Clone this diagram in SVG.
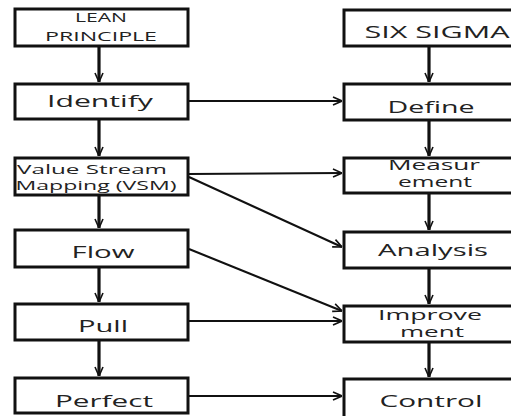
<svg xmlns="http://www.w3.org/2000/svg" width="511" height="416" viewBox="0 0 511 416">
<style>
.box{fill:#fff;stroke:#111;stroke-width:3}
.t{font-family:"Open Sans","DejaVu Sans",sans-serif;fill:#222;text-anchor:middle}
.s16{font-size:16px}
.s14{font-size:14px}
.s13{font-size:13px}
.s12{font-size:12px}
.v{stroke:#111;stroke-width:3.2;fill:none}
.h{stroke:#111;stroke-width:2;fill:none}
</style>
<defs>
<marker id="a" markerUnits="userSpaceOnUse" viewBox="0 0 10 10" refX="10" refY="5" markerWidth="10" markerHeight="10" orient="auto">
<path d="M1,1 L10,5 L1,9" fill="none" stroke="#111" stroke-width="1.6"/>
</marker>
</defs>
<g id="connectors">
<line class="v" x1="99" y1="46" x2="99" y2="82" marker-end="url(#a)"/>
<line class="v" x1="99" y1="120" x2="99" y2="156" marker-end="url(#a)"/>
<line class="v" x1="99" y1="195" x2="99" y2="228" marker-end="url(#a)"/>
<line class="v" x1="99" y1="267" x2="99" y2="302" marker-end="url(#a)"/>
<line class="v" x1="99" y1="341" x2="99" y2="376" marker-end="url(#a)"/>
<line class="v" x1="429" y1="46" x2="429" y2="82" marker-end="url(#a)"/>
<line class="v" x1="429" y1="120" x2="429" y2="156" marker-end="url(#a)"/>
<line class="v" x1="429" y1="194" x2="429" y2="230" marker-end="url(#a)"/>
<line class="v" x1="429" y1="268" x2="429" y2="304" marker-end="url(#a)"/>
<line class="v" x1="429" y1="342" x2="429" y2="377" marker-end="url(#a)"/>
<line class="h" x1="189" y1="101" x2="342" y2="101" marker-end="url(#a)"/>
<line class="h" x1="189" y1="174" x2="342" y2="173" marker-end="url(#a)"/>
<line class="h" x1="189" y1="177" x2="342" y2="247" marker-end="url(#a)"/>
<line class="h" x1="189" y1="249" x2="342" y2="311" marker-end="url(#a)"/>
<line class="h" x1="189" y1="321" x2="342" y2="321" marker-end="url(#a)"/>
<line class="h" x1="189" y1="396" x2="342" y2="396" marker-end="url(#a)"/>
</g>
<g id="lean">
<rect class="box" x="15" y="9" width="173" height="37"/>
<text class="t s13" x="101" y="22" textLength="52" lengthAdjust="spacingAndGlyphs">LEAN</text>
<text class="t s13" x="101" y="41" textLength="112" lengthAdjust="spacingAndGlyphs">PRINCIPLE</text>
</g>
<g id="identify">
<rect class="box" x="15" y="84" width="173" height="35"/>
<text class="t s16" x="100" y="107" textLength="106" lengthAdjust="spacingAndGlyphs">Identify</text>
</g>
<g id="vsm">
<rect class="box" x="15" y="158" width="173" height="37"/>
<text class="t s12" x="92" y="174" textLength="150" lengthAdjust="spacingAndGlyphs">Value Stream</text>
<text class="t s12" x="96" y="190" textLength="161" lengthAdjust="spacingAndGlyphs">Mapping (VSM)</text>
</g>
<g id="flow">
<rect class="box" x="15" y="230" width="173" height="37"/>
<text class="t s16" x="103" y="258" textLength="63" lengthAdjust="spacingAndGlyphs">Flow</text>
</g>
<g id="pull">
<rect class="box" x="15" y="304" width="173" height="36"/>
<text class="t s16" x="103" y="332" textLength="50" lengthAdjust="spacingAndGlyphs">Pull</text>
</g>
<g id="perfect">
<rect class="box" x="15" y="378" width="173" height="35"/>
<text class="t s16" x="104" y="407" textLength="98" lengthAdjust="spacingAndGlyphs">Perfect</text>
</g>
<g id="sixsigma">
<rect class="box" x="344" y="10" width="178" height="36"/>
<text class="t s16" x="437" y="38" textLength="145" lengthAdjust="spacingAndGlyphs">SIX SIGMA</text>
</g>
<g id="define">
<rect class="box" x="344" y="84" width="178" height="36"/>
<text class="t s16" x="431" y="113" textLength="87" lengthAdjust="spacingAndGlyphs">Define</text>
</g>
<g id="measurement">
<rect class="box" x="344" y="158" width="178" height="35"/>
<text class="t s14" x="434" y="170" textLength="92" lengthAdjust="spacingAndGlyphs">Measur</text>
<text class="t s14" x="435" y="187" textLength="74" lengthAdjust="spacingAndGlyphs">ement</text>
</g>
<g id="analysis">
<rect class="box" x="344" y="232" width="178" height="36"/>
<text class="t s16" x="433" y="256" textLength="110" lengthAdjust="spacingAndGlyphs">Analysis</text>
</g>
<g id="improvement">
<rect class="box" x="344" y="306" width="178" height="36"/>
<text class="t s14" x="430" y="320" textLength="104" lengthAdjust="spacingAndGlyphs">Improve</text>
<text class="t s14" x="432" y="337" textLength="64" lengthAdjust="spacingAndGlyphs">ment</text>
</g>
<g id="control">
<rect class="box" x="344" y="379" width="178" height="40"/>
<text class="t s16" x="431" y="407" textLength="103" lengthAdjust="spacingAndGlyphs">Control</text>
</g>
</svg>
